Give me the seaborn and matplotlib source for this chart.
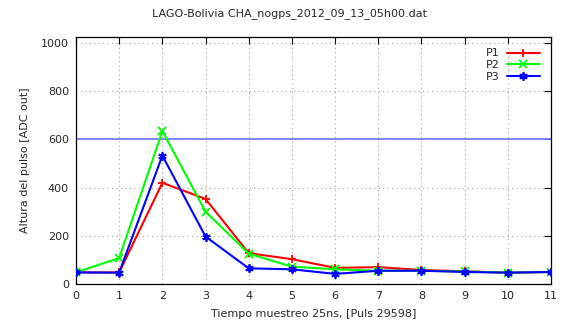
import numpy as np
import pandas as pd
import matplotlib
matplotlib.use("Agg")
import matplotlib.pyplot as plt
import seaborn as sns

# Pulse samples (25 ns bins) for the three photomultipliers
samples = list(range(12))
p1 = [48, 48, 420, 353, 128, 103, 67, 70, 58, 53, 47, 50]
p2 = [48, 108, 635, 300, 126, 72, 61, 55, 55, 52, 47, 50]
p3 = [48, 47, 533, 197, 65, 61, 42, 55, 55, 50, 47, 50]
threshold = 600

series_names = ["P1", "P2", "P3"]
series_colors = ["#ff0000", "#00ff00", "#0000ff"]
series_markers = ["+", "x", (6, 2, 0)]

df = pd.DataFrame({
    "t": samples * 3,
    "adc": p1 + p2 + p3,
    "canal": sum([[n] * len(samples) for n in series_names], []),
})

sns.set_style("white")
plt.rcParams["font.family"] = ["DejaVu Sans"]

fig = plt.figure(figsize=(5.62, 3.29), dpi=100)
ax = fig.add_axes([76 / 562, 1 - 284 / 329, (551 - 76) / 562, (284 - 37.3) / 329])

ax.axhline(threshold, color="#7878ff", lw=1.3, zorder=1)

for name, col, mk in zip(series_names, series_colors, series_markers):
    sns.lineplot(data=df[df["canal"] == name], x="t", y="adc", ax=ax,
                 color=col, lw=1.5, marker=mk, markersize=6,
                 markeredgewidth=1.3, markeredgecolor=col, label=name,
                 zorder=3)

ax.set_xlim(0, 11)
ax.set_ylim(0, 1024)
ax.set_xticks(samples)
ax.set_yticks(range(0, 1001, 200))
ax.tick_params(direction="in", length=5, width=0.8, labelsize=8,
               top=True, right=True, color="black", pad=5)
ax.grid(True, linestyle=(0, (1, 3)), color="#a0a0a0", lw=0.8)
for s in ax.spines.values():
    s.set_color("black")
    s.set_linewidth(0.9)

ax.set_xlabel("Tiempo muestreo 25ns, [Puls 29598]", fontsize=8, labelpad=6)
ax.set_ylabel("Altura del pulso [ADC out]", fontsize=8, labelpad=8)

fig.text(290 / 562, 1 - 14 / 329, "LAGO-Bolivia CHA_nogps_2012_09_13_05h00.dat",
         ha="center", va="center", fontsize=8)

leg = ax.legend(loc="upper right", frameon=False, markerfirst=False,
                fontsize=8, handlelength=3.0, labelspacing=0.15,
                borderaxespad=0.6, handletextpad=0.6)

fig.savefig("out.png", dpi=100)
